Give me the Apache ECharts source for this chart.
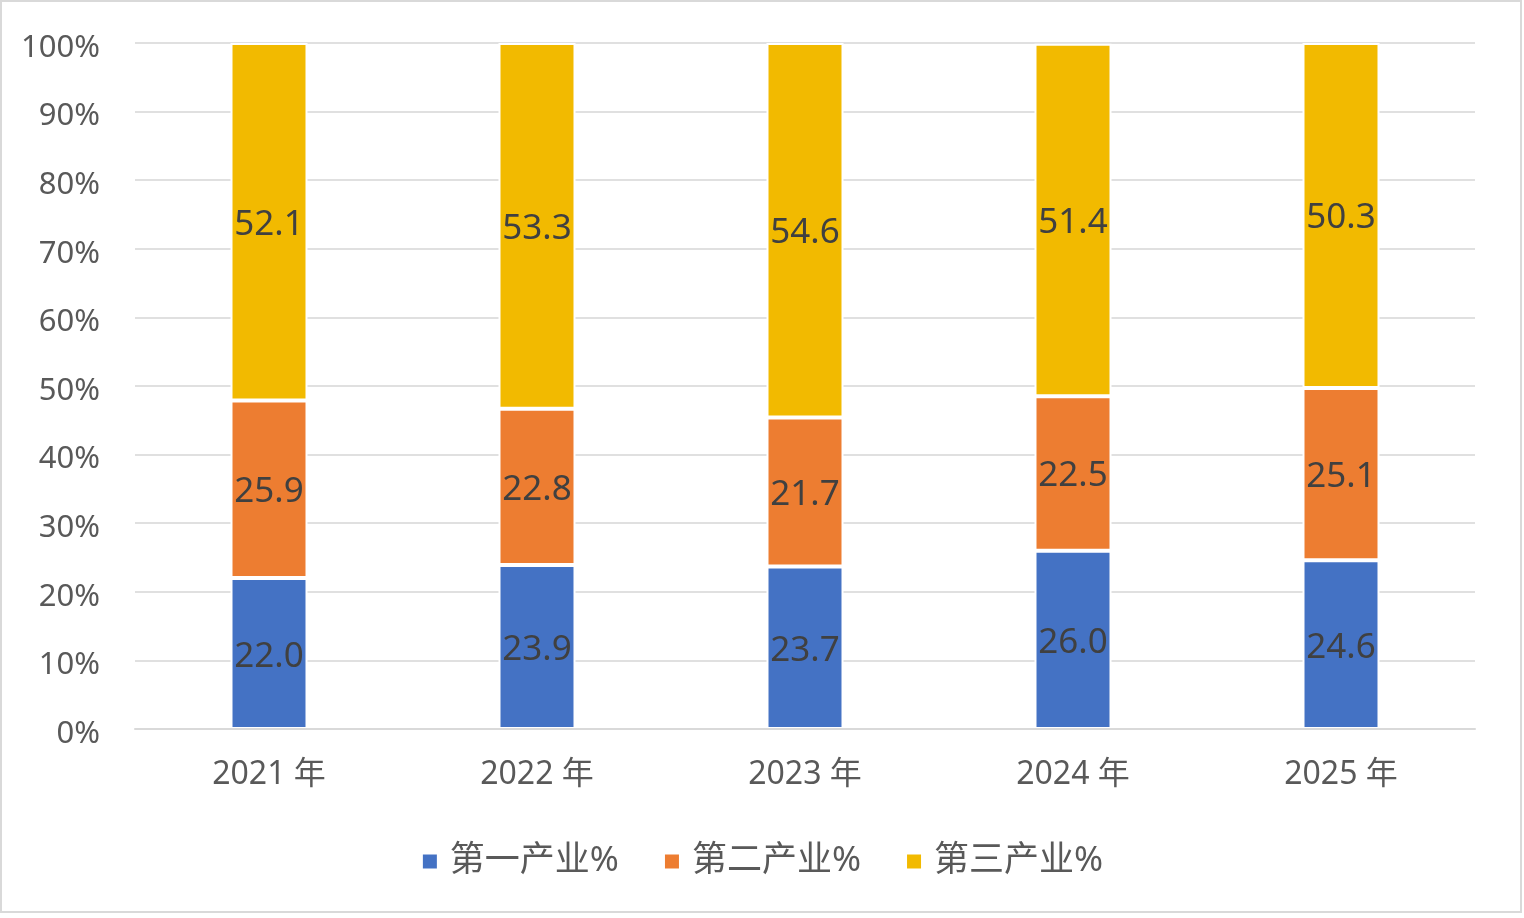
<!DOCTYPE html>
<html>
<head>
<meta charset="utf-8">
<script src="https://cdn.jsdelivr.net/npm/echarts@6/dist/echarts.min.js"></script>
<style>
  html, body { margin: 0; padding: 0; background: #fff; }
  #chart { width: 1524px; height: 918px; }
</style>
</head>
<body>
<div id="chart"></div>
<script>
var years = ['2021 年', '2022 年', '2023 年', '2024 年', '2025 年'];
var primary = [22.0, 23.9, 23.7, 26.0, 24.6];
var secondary = [25.9, 22.8, 21.7, 22.5, 25.1];
var tertiary = [52.1, 53.3, 54.6, 51.4, 50.3];
var seriesNames = ['第一产业%', '第二产业%', '第三产业%'];
var colors = ['#4472C4', '#ED7D31', '#F2BA00'];

var fontFamily = '"Noto Sans", "Noto Sans CJK SC", sans-serif';

function makeSeries(name, data, color) {
    return {
        name: name,
        type: 'bar',
        stack: 'total',
        barWidth: 77,
        data: data,
        itemStyle: {
            color: color,
            borderColor: '#ffffff',
            borderWidth: 2
        },
        label: {
            show: true,
            position: 'inside',
            offset: [0, 3],
            color: '#404040',
            fontSize: 35,
            fontFamily: fontFamily,
            formatter: function(p) {
                return p.value.toFixed(1);
            }
        }
    };
}

var chart = echarts.init(document.getElementById('chart'));
var option = {
    animation: false,
    textStyle: { fontFamily: fontFamily },
    graphic: [{
        type: 'rect',
        shape: { x: 1, y: 1, width: 1520, height: 911 },
        style: { fill: 'none', stroke: '#d9d9d9', lineWidth: 2 },
        silent: true
    }],
    grid: {
        left: 135,
        right: 49,
        top: 43,
        bottom: 189
    },
    legend: {
        data: seriesNames,
        left: 'center',
        top: 839,
        itemWidth: 16,
        itemHeight: 16,
        itemGap: 44,
        icon: 'rect',
        textStyle: {
            color: '#595959',
            fontSize: 35,
            fontFamily: fontFamily,
            padding: [0, 0, 0, 7]
        }
    },
    xAxis: {
        type: 'category',
        data: years,
        z: 3,
        axisLine: { lineStyle: { color: '#d9d9d9', width: 2 } },
        axisTick: { show: false },
        axisLabel: {
            color: '#595959',
            fontSize: 32,
            margin: 30,
            fontFamily: fontFamily
        }
    },
    yAxis: {
        type: 'value',
        min: 0,
        max: 100,
        interval: 10,
        axisLine: { show: false },
        axisTick: { show: false },
        axisLabel: {
            color: '#595959',
            fontSize: 31,
            margin: 35,
            verticalAlign: 'top',
            lineHeight: 10,
            fontFamily: fontFamily,
            formatter: '{value}%'
        },
        splitLine: { lineStyle: { color: '#e0e0e0', width: 2 } }
    },
    series: [
        makeSeries(seriesNames[0], primary, colors[0]),
        makeSeries(seriesNames[1], secondary, colors[1]),
        makeSeries(seriesNames[2], tertiary, colors[2])
    ]
};
chart.setOption(option);
</script>
</body>
</html>
